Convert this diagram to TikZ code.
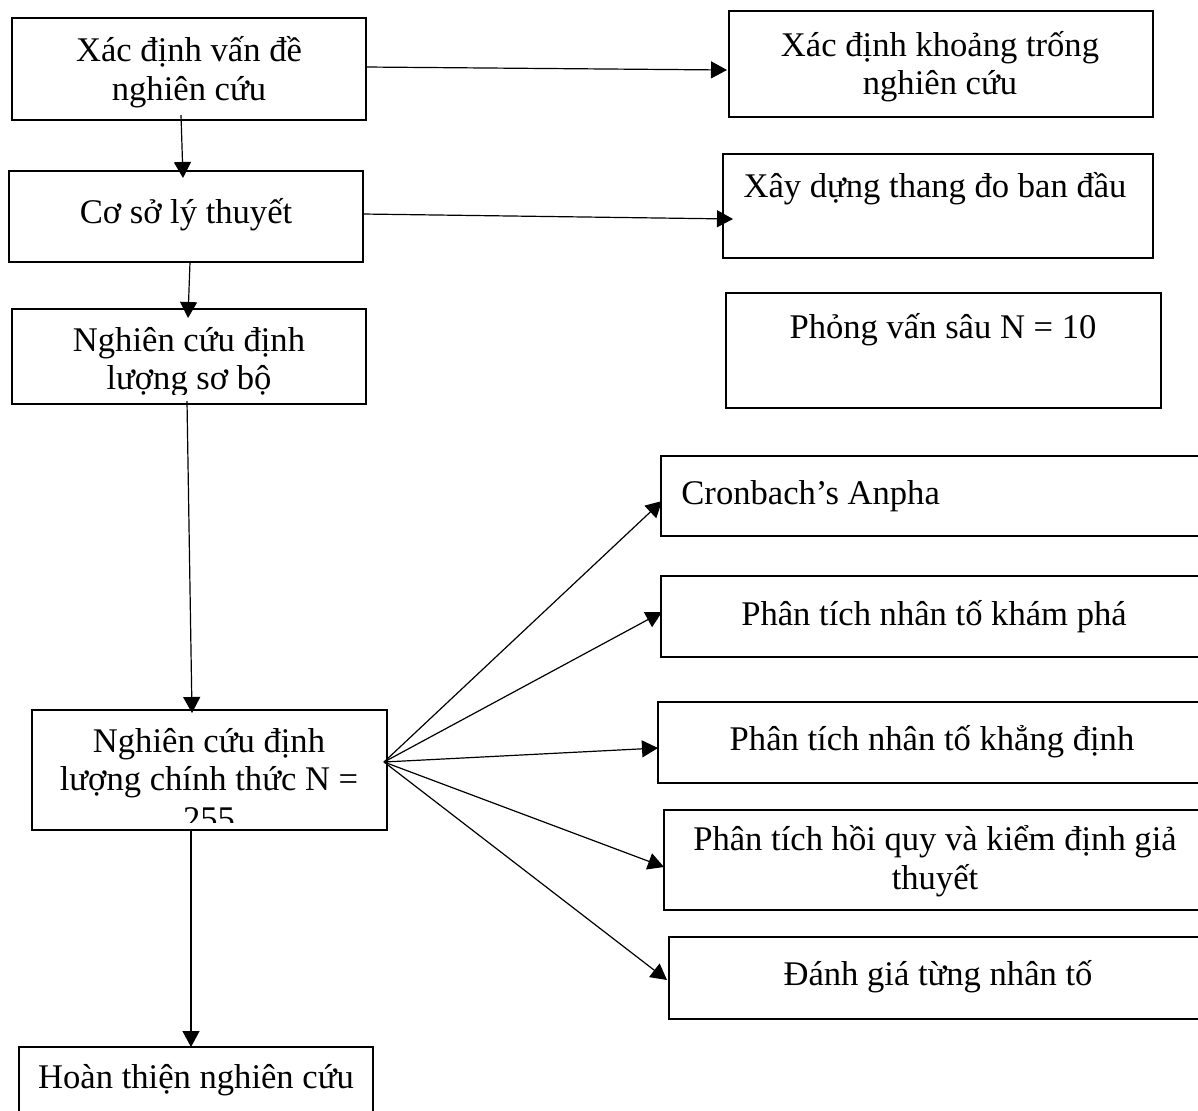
\documentclass[tikz,border=0pt]{standalone}
\usepackage{fontspec}
\setmainfont{Liberation Serif}
\usetikzlibrary{arrows.meta,calc}
\newcommand\pxbox[5]{\node[boxst, minimum width={(#4-#2)*0.5pt}, minimum height={(#5-#3)*0.5pt}] (#1) at ({(#2+#4)/2},{(#3+#5)/2}) {};}
\tikzset{
  boxst/.style={draw=black, line width=0.6pt, rectangle, inner sep=0pt, outer sep=0pt},
  txt/.style={anchor=base, inner sep=0pt, font=\fontsize{17.3}{19.5}\selectfont},
  conn/.style={line width=0.6pt, -{Triangle[length=8pt,width=8.5pt]}}
}
\begin{document}
\begin{tikzpicture}[x=0.5pt,y=-0.5pt]
\useasboundingbox (0,0) rectangle (1198,1110);
\clip (0,0) rectangle (1198,1110);
\fill[white] (0,0) rectangle (1198,1110);
% boxes
\pxbox{b1}{12}{18}{366}{120}
\pxbox{b2}{9}{171}{363}{262}
\pxbox{b3}{12}{309}{366}{404}
\pxbox{b4}{32}{710}{387}{830}
\pxbox{b5}{19}{1047}{373}{1147}
\pxbox{b6}{729}{11}{1153}{117}
\pxbox{b7}{723}{154}{1153}{258}
\pxbox{b8}{726}{293}{1161}{408}
\pxbox{b9}{661}{456}{1230}{536}
\pxbox{b10}{661}{576}{1230}{657}
\pxbox{b11}{658}{702}{1230}{783}
\pxbox{b12}{664}{810}{1230}{910}
\pxbox{b13}{669}{937}{1230}{1019}
% texts
\node[txt] (t1a) at (189,61) {Xác định vấn đề};
\node[txt] (t1b) at (189,100) {nghiên cứu};
\node[txt] (t2) at (186,223) {Cơ sở lý thuyết};
\begin{scope}
\clip (12,309) rectangle (366,394);
\node[txt] (t3a) at (189,351) {Nghiên cứu định};
\node[txt] (t3b) at (189,389) {lượng sơ bộ};
\end{scope}
\begin{scope}
\clip (32,710) rectangle (387,822);
\node[txt] (t4a) at (209,752) {Nghiên cứu định};
\node[txt] (t4b) at (209,790) {lượng chính thức N =};
\node[txt] (t4c) at (209,830) {255};
\end{scope}
\node[txt] (t5) at (196,1088) {Hoàn thiện nghiên cứu};
\node[txt] (t6a) at (940,56) {Xác định khoảng trống};
\node[txt] (t6b) at (940,94) {nghiên cứu};
\node[txt] (t7) at (935,197) {Xây dựng thang đo ban đầu};
\node[txt] (t8) at (943,338) {Phỏng vấn sâu N = 10};
\node[txt, anchor=base west] (t9) at (681,504) {Cronbach’s Anpha};
\node[txt] (t10) at (934,625) {Phân tích nhân tố khám phá};
\node[txt] (t11) at (932,750) {Phân tích nhân tố khẳng định};
\node[txt] (t12a) at (935,850) {Phân tích hồi quy và kiểm định giả};
\node[txt] (t12b) at (935,889) {thuyết};
\node[txt] (t13) at (938,985) {Đánh giá từng nhân tố};
% connectors
\draw[conn] ($(b1.east)+(0,-2)$) -- ($(b6.west)+(-2,6)$);
\draw[conn] ($(b2.east)+(0,-2.5)$) -- ($(b7.west)+(10,13)$);
\draw[conn] ($(b1.south)+(-8,-5)$) -- ($(b2.north)+(-3,7)$);
\draw[conn] ($(b2.south)+(4,0)$) -- ($(b3.north)+(-1,9)$);
\draw[conn] ($(b3.south)+(-2,-3)$) -- ($(b4.north)+(-17.5,3)$);
\draw[conn] ($(b4.south)+(-18.5,0)$) -- ($(b5.north)+(-5,0)$);
\coordinate (o) at ($(b4.east)+(-3,-8)$);
\draw[conn] (o) -- ($(b9.west)+(1,5)$);
\draw[conn] (o) -- ($(b10.west)+(1,-4.5)$);
\draw[conn] (o) -- ($(b11.west)+(0,5.5)$);
\draw[conn] (o) -- ($(b12.west)+(0,7)$);
\draw[conn] (o) -- ($(b13.west)+(-2,2)$);
\end{tikzpicture}
\end{document}
